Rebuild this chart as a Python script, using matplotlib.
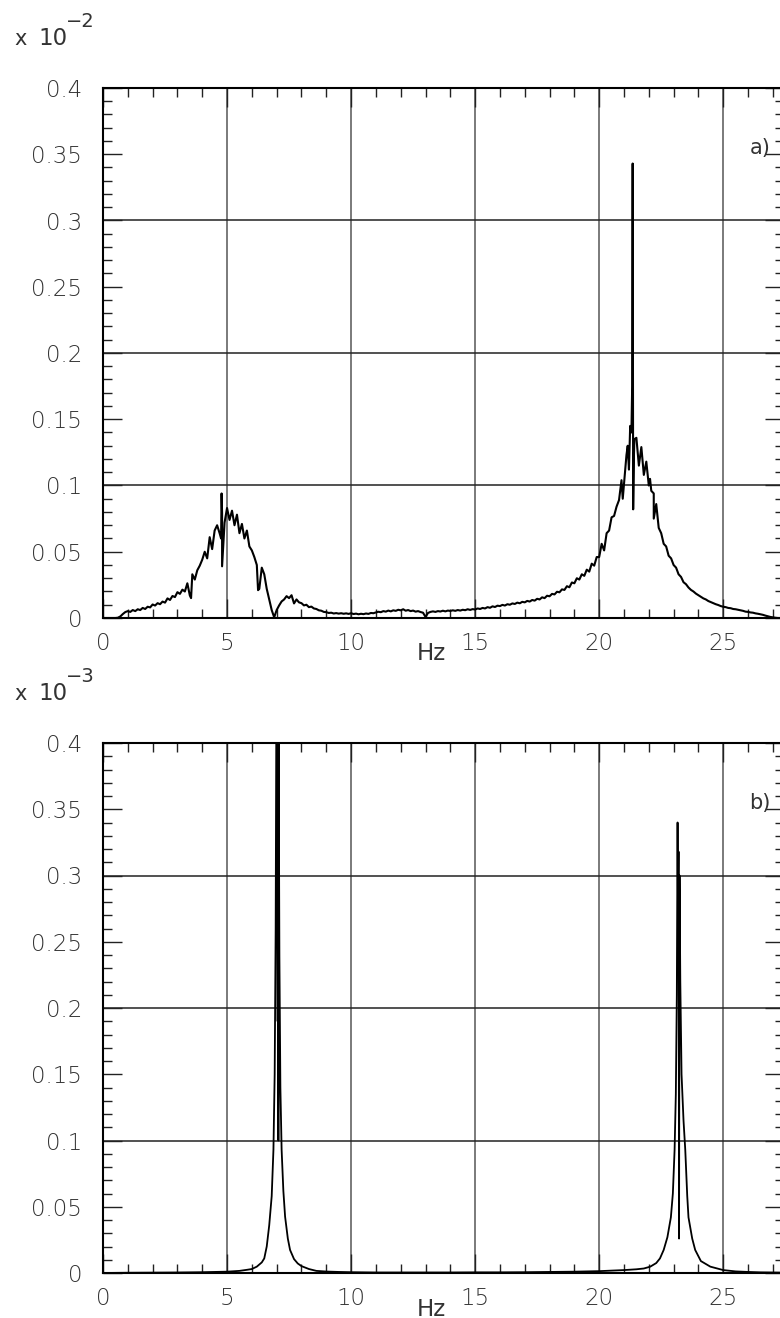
import numpy as np
import matplotlib.pyplot as plt
from matplotlib.ticker import MultipleLocator, FuncFormatter

# panel a) : spectrum sampled every 0.1 Hz (values x 1e-2), read off the picture
freq_a = np.round(np.arange(0, 27.35, 0.1), 2)
amp_a = [
    0, 0, 0, 0, 0, 0, 0.0002, 0.0012, 0.0030, 0.0045,
    0.0052, 0.0046, 0.0060, 0.0052, 0.0066, 0.0060, 0.0076, 0.0068, 0.0085, 0.0080,
    0.0102, 0.0094, 0.0112, 0.0104, 0.0124, 0.0116, 0.0148, 0.0136, 0.0166, 0.0158,
    0.0195, 0.0182, 0.0214, 0.0200, 0.0262, 0.0170, 0.0330, 0.0290, 0.0360, 0.0395,
    0.0440, 0.0500, 0.0450, 0.0610, 0.0520, 0.0660, 0.0700, 0.0640, 0.0790, 0.0720,
    0.0830, 0.0740, 0.0810, 0.0700, 0.0780, 0.0640, 0.0710, 0.0600, 0.0660, 0.0540,
    0.0510, 0.0460, 0.0400, 0.0220, 0.0380, 0.0330, 0.0220, 0.0140, 0.0060, 0.0005,
    0.0060, 0.0095, 0.0125, 0.0140, 0.0165, 0.0150, 0.0172, 0.0110, 0.0140, 0.0118,
    0.0112, 0.0095, 0.0100, 0.0082, 0.0086, 0.0072, 0.0068, 0.0058, 0.0055, 0.0046,
    0.0044, 0.0038, 0.0040, 0.0034, 0.0037, 0.0033, 0.0036, 0.0032, 0.0035, 0.0031,
    0.0036, 0.0030, 0.0033, 0.0028, 0.0032, 0.0029, 0.0034, 0.0031, 0.0038, 0.0036,
    0.0042, 0.0047, 0.0044, 0.0052, 0.0048, 0.0056, 0.0050, 0.0058, 0.0054, 0.0062,
    0.0058, 0.0066, 0.0055, 0.0060, 0.0052, 0.0056, 0.0048, 0.0052, 0.0045, 0.0040,
    0.0008, 0.0038, 0.0046, 0.0050, 0.0046, 0.0052, 0.0049, 0.0055, 0.0050, 0.0056,
    0.0053, 0.0058, 0.0054, 0.0060, 0.0056, 0.0062, 0.0059, 0.0066, 0.0061, 0.0067,
    0.0064, 0.0072, 0.0068, 0.0076, 0.0072, 0.0082, 0.0077, 0.0088, 0.0083, 0.0093,
    0.0090, 0.0099, 0.0094, 0.0104, 0.0100, 0.0110, 0.0106, 0.0116, 0.0111, 0.0122,
    0.0118, 0.0129, 0.0124, 0.0136, 0.0131, 0.0145, 0.0140, 0.0156, 0.0150, 0.0168,
    0.0164, 0.0182, 0.0178, 0.0198, 0.0194, 0.0216, 0.0212, 0.0240, 0.0232, 0.0268,
    0.0262, 0.0300, 0.0290, 0.0330, 0.0318, 0.0365, 0.0350, 0.0410, 0.0395, 0.0460,
    0.0460, 0.0560, 0.0510, 0.0640, 0.0660, 0.0760, 0.0770, 0.0840, 0.0890, 0.1040,
    0.1010, 0.1230, 0.1120, 0.1400, 0.1220, 0.1360, 0.1150, 0.1290, 0.1080, 0.1180,
    0.1000, 0.0960, 0.0940, 0.0860, 0.0680, 0.0640, 0.0560, 0.0540, 0.0470, 0.0450,
    0.0400, 0.0380, 0.0330, 0.0310, 0.0270, 0.0255, 0.0230, 0.0212, 0.0200, 0.0184,
    0.0172, 0.0160, 0.0148, 0.0140, 0.0128, 0.0120, 0.0112, 0.0104, 0.0098, 0.0090,
    0.0085, 0.0082, 0.0076, 0.0074, 0.0068, 0.0066, 0.0062, 0.0058, 0.0054, 0.0048,
    0.0046, 0.0042, 0.0040, 0.0035, 0.0032, 0.0028, 0.0024, 0.0018, 0.0013, 0.0008,
    0.0005, 0.0002, 0.0, 0.0,
]
# narrow lines / spikes in panel a)
spike_f_a = [3.55, 4.76, 4.78, 4.80, 6.25, 20.95, 21.15, 21.25, 21.33, 21.35, 21.37, 21.42, 22.05, 22.2]
spike_v_a = [0.015, 0.060, 0.094, 0.039, 0.021, 0.090, 0.130, 0.145, 0.175, 0.343, 0.082, 0.135, 0.105, 0.075]

# panel b) : (values x 1e-3)
freq_b = [0.0, 1.0, 2.0, 3.0, 4.0, 4.5, 5.0, 5.5, 5.8, 6.0, 6.2, 6.4, 6.5, 6.6, 6.7, 6.8,
          6.87, 6.92, 6.96, 6.99, 7.02, 7.04, 7.05, 7.07, 7.08, 7.11, 7.15, 7.2, 7.27, 7.34,
          7.45, 7.54, 7.7, 7.85, 8.0, 8.3, 8.6, 9.0, 9.5, 10, 11, 12, 13, 14, 15, 16, 17,
          18, 19, 20, 20.5, 21, 21.5, 21.8, 22.06, 22.3, 22.45, 22.6, 22.75, 22.89, 22.97,
          23.04, 23.09, 23.13, 23.16, 23.18, 23.20, 23.22, 23.24, 23.27, 23.32, 23.4, 23.47,
          23.55, 23.6, 23.75, 23.87, 24.1, 24.48, 25.0, 25.5, 26, 26.5, 27, 27.45]
amp_b = [0.0, 0.0002, 0.0003, 0.0004, 0.0006, 0.0008, 0.001, 0.0016, 0.0024, 0.003, 0.0048,
         0.008, 0.011, 0.020, 0.036, 0.058, 0.093, 0.15, 0.26, 0.44, 0.46, 0.19, 0.43, 0.10,
         0.40, 0.24, 0.14, 0.093, 0.062, 0.0425, 0.026, 0.0174, 0.0105, 0.0072, 0.0052,
         0.003, 0.0016, 0.0011, 0.0008, 0.0006, 0.0004, 0.0004, 0.0004, 0.0004, 0.0005,
         0.0005, 0.0006, 0.0008, 0.001, 0.0014, 0.0018, 0.0022, 0.0028, 0.0034, 0.0048,
         0.0075, 0.011, 0.0174, 0.027, 0.042, 0.060, 0.093, 0.135, 0.21, 0.34, 0.26, 0.318,
         0.026, 0.30, 0.22, 0.15, 0.115, 0.093, 0.058, 0.042, 0.026, 0.0174, 0.009, 0.0048,
         0.0022, 0.0012, 0.0008, 0.0005, 0.0004, 0.0003]

grid_x = [5, 10, 15, 20, 25]
grid_y = [0.1, 0.2, 0.3]
txt = '#333333'

fa = np.concatenate([freq_a, spike_f_a])
va = np.concatenate([amp_a, spike_v_a])
order = np.argsort(fa, kind='stable')
fa, va = fa[order], va[order]

fig = plt.figure(figsize=(7.8, 13.18), dpi=100)
W, H = 780, 1318


def make_axes(top_px):
    return fig.add_axes([103 / W, 1 - (top_px + 530) / H, 681 / W, 530 / H])


def style(ax, tag):
    ax.set_xlim(0, 27.45)
    ax.set_ylim(0, 0.4)
    ax.xaxis.set_major_locator(MultipleLocator(5))
    ax.xaxis.set_minor_locator(MultipleLocator(1))
    ax.yaxis.set_major_locator(MultipleLocator(0.05))
    ax.yaxis.set_minor_locator(MultipleLocator(0.01))
    ax.yaxis.set_major_formatter(FuncFormatter(lambda v, p: '%g' % round(v, 3)))
    ax.tick_params(which='both', direction='in', top=True, right=True,
                   labelsize=16.5, labelcolor=txt, width=1, color='#222')
    ax.tick_params(which='major', length=13.5)
    ax.tick_params(which='minor', length=6.7)
    ax.tick_params(axis='y', pad=15)
    ax.tick_params(axis='x', pad=10)
    for s in ax.spines.values():
        s.set_linewidth(1.5)
    for v in grid_x:
        ax.axvline(v, color='#707070', lw=1.3, zorder=1)
    for h in grid_y:
        ax.axhline(h, color='#222222', lw=1.1, zorder=1)
    ax.text(26.9, 0.355, tag, ha='right', va='center', fontsize=15, color=txt)


ax1 = make_axes(88)
ax1.plot(fa, va, color='black', lw=1.5, zorder=3)
style(ax1, 'a)')

ax2 = make_axes(743)
ax2.plot(freq_b, amp_b, color='black', lw=1.3, zorder=3)
style(ax2, 'b)')

for ax in (ax1, ax2):
    for lab in ax.get_xticklabels() + ax.get_yticklabels():
        lab.set_fontweight('light')

# axis multipliers and unit labels
for base_y, exp_txt in [(45, '\u22122'), (700, '\u22123')]:
    fig.text(14 / W, 1 - base_y / H, 'x', fontsize=15, color=txt, va='baseline')
    fig.text(38 / W, 1 - base_y / H, '10', fontsize=16.5, color=txt, va='baseline')
    fig.text(66 / W, 1 - (base_y - 18) / H, exp_txt, fontsize=14, color=txt, va='baseline')

fig.text(431 / W, 1 - 654 / H, 'Hz', fontsize=16.5, color=txt, ha='center', va='center')
fig.text(431 / W, 1 - 1309 / H, 'Hz', fontsize=16.5, color=txt, ha='center', va='center')

fig.savefig('out.png', dpi=100)
